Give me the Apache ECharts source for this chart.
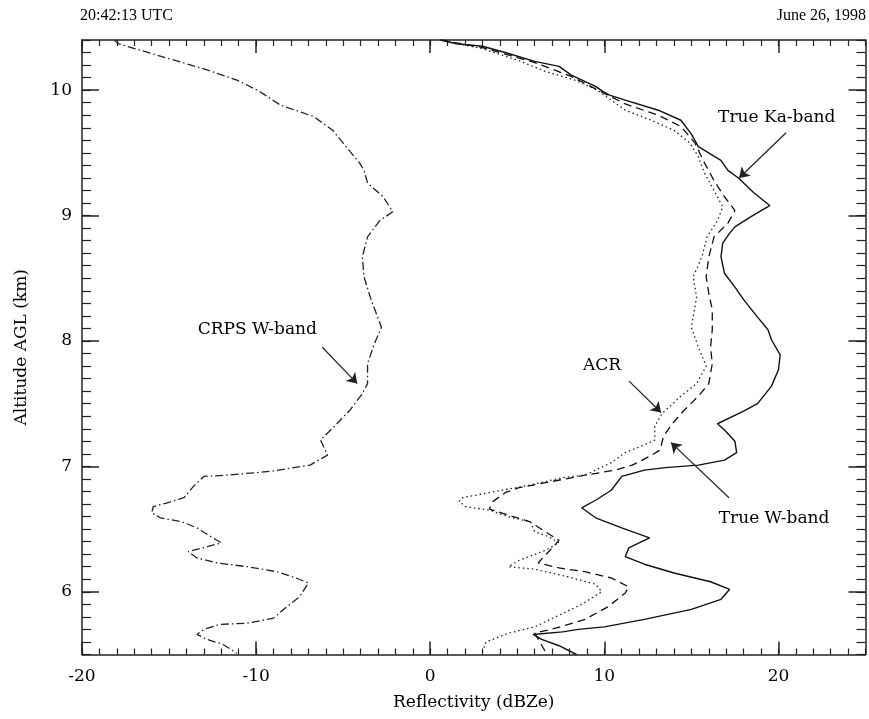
<!DOCTYPE html>
<html>
<head>
<meta charset="utf-8">
<script src="https://cdn.jsdelivr.net/npm/echarts@6/dist/echarts.min.js"></script>
<style>
html,body{margin:0;padding:0;background:#fff;}
#chart{width:869px;height:719px;}
</style>
</head>
<body>
<div id="chart"></div>
<script>
// ---- Data (x = reflectivity dBZe, y = altitude km AGL) ----
const xTickLabels = [-20, -10, 0, 10, 20];
const yTickLabels = [6, 7, 8, 9, 10];

const trueKa = [
  [0.6,10.40],[1.5,10.37],[3.0,10.35],[4.3,10.30],[6.0,10.23],[7.4,10.19],[8.1,10.12],[9.5,10.03],
  [9.9,9.99],[10.3,9.96],[11.2,9.92],[13.1,9.84],[14.4,9.76],[15.0,9.65],[15.4,9.55],[16.7,9.44],
  [17.1,9.36],[17.7,9.30],[18.6,9.18],[19.5,9.08],[18.4,8.99],[17.5,8.91],[17.2,8.86],[16.8,8.78],
  [16.7,8.67],[16.9,8.54],[17.5,8.43],[18.0,8.33],[18.8,8.19],[19.4,8.09],[19.6,8.01],[20.1,7.89],
  [20.0,7.77],[19.6,7.64],[18.8,7.50],[18.0,7.44],[16.5,7.34],[16.9,7.29],[17.5,7.20],[17.6,7.11],
  [16.9,7.05],[15.4,7.01],[13.5,6.99],[12.3,6.97],[11.0,6.92],[10.4,6.81],[9.5,6.73],[8.7,6.67],
  [9.5,6.59],[11.0,6.51],[12.6,6.43],[11.4,6.35],[11.2,6.28],[12.3,6.22],[14.0,6.15],[16.1,6.08],
  [17.2,6.02],[16.7,5.94],[15.0,5.86],[12.3,5.78],[10.0,5.72],[8.5,5.70],[7.6,5.68],[5.9,5.66],
  [6.4,5.62],[7.4,5.57],[8.4,5.50]
];

const trueW = [
  [0.6,10.40],[3.0,10.34],[6.0,10.22],[8.1,10.11],[9.5,10.01],[11.2,9.89],[13.1,9.80],[14.4,9.71],
  [15.2,9.58],[15.75,9.42],[16.3,9.28],[16.9,9.15],[17.5,9.04],[17.1,8.94],[16.3,8.83],[16.0,8.67],
  [15.85,8.51],[16.0,8.38],[16.2,8.25],[16.2,8.09],[16.1,7.95],[16.2,7.82],[16.0,7.66],[15.4,7.56],
  [14.6,7.45],[13.9,7.34],[13.4,7.24],[13.2,7.13],[12.6,7.08],[11.6,7.01],[10.6,6.97],[8.9,6.93],
  [7.0,6.88],[5.1,6.83],[4.3,6.79],[3.6,6.72],[3.4,6.66],[4.5,6.61],[5.7,6.56],[6.6,6.48],
  [7.4,6.41],[7.0,6.35],[6.2,6.23],[7.4,6.19],[8.9,6.16],[10.4,6.11],[11.4,6.04],[11.2,5.99],
  [10.2,5.88],[8.9,5.78],[7.2,5.71],[6.0,5.67],[6.3,5.60],[6.7,5.50]
];

const acr = [
  [0.6,10.40],[3.0,10.33],[5.0,10.24],[6.6,10.15],[8.3,10.08],[9.6,10.00],[11.2,9.84],[12.7,9.76],
  [14.0,9.68],[14.9,9.58],[15.4,9.47],[15.75,9.34],[16.3,9.20],[16.8,9.07],[16.5,8.96],[15.9,8.83],
  [15.6,8.67],[15.1,8.51],[15.3,8.35],[15.0,8.11],[15.4,7.95],[15.85,7.80],[15.3,7.66],[14.4,7.56],
  [13.3,7.42],[12.9,7.32],[12.9,7.21],[12.1,7.16],[11.2,7.11],[10.4,7.03],[8.9,6.93],[7.6,6.91],
  [5.7,6.85],[3.75,6.80],[1.85,6.75],[1.66,6.72],[2.04,6.68],[3.4,6.65],[4.7,6.59],[5.75,6.56],
  [6.0,6.48],[6.8,6.44],[7.4,6.39],[6.6,6.33],[5.1,6.25],[4.5,6.20],[6.0,6.18],[7.9,6.12],
  [9.5,6.06],[9.85,6.00],[8.7,5.90],[7.2,5.80],[6.0,5.72],[4.5,5.67],[3.2,5.60],[3.0,5.52]
];

const crps = [
  [-18.15,10.40],[-17.9,10.37],[-15.7,10.28],[-13.0,10.17],[-11.1,10.08],[-9.8,9.99],[-8.6,9.88],
  [-6.7,9.79],[-5.6,9.68],[-4.6,9.51],[-4.06,9.42],[-3.8,9.36],[-3.6,9.26],[-2.7,9.15],[-2.15,9.03],
  [-2.9,8.96],[-3.6,8.83],[-3.9,8.67],[-3.8,8.51],[-3.4,8.33],[-2.8,8.11],[-3.2,7.98],[-3.6,7.82],
  [-3.6,7.66],[-3.9,7.58],[-4.6,7.45],[-5.5,7.32],[-6.3,7.21],[-5.9,7.09],[-6.9,7.01],[-9.2,6.96],
  [-11.7,6.93],[-13.0,6.92],[-13.6,6.84],[-14.15,6.75],[-15.1,6.71],[-15.9,6.68],[-16.0,6.63],
  [-15.5,6.59],[-14.3,6.56],[-13.4,6.51],[-12.6,6.44],[-12.0,6.39],[-12.8,6.36],[-13.9,6.32],
  [-13.4,6.27],[-12.25,6.23],[-10.5,6.20],[-8.8,6.16],[-7.7,6.11],[-7.0,6.07],[-7.5,5.96],
  [-8.25,5.88],[-9.0,5.79],[-10.5,5.75],[-12.1,5.74],[-13.0,5.70],[-13.4,5.66],[-12.8,5.62],
  [-11.9,5.58],[-11.1,5.51]
];

// annotation labels (text anchor in data units) and arrows (from -> to in data units)
const annoNames = ['CRPS W-band', 'True Ka-band', 'ACR', 'True W-band'];
const annoText = [[-9.93, 8.09], [19.9, 9.78], [9.87, 7.80], [19.75, 6.58]];
const arrowFrom = [[-6.2, 7.95], [20.44, 9.66], [11.42, 7.68], [17.16, 6.75]];
const arrowTo = [[-4.19, 7.66], [17.74, 9.30], [13.26, 7.43], [13.83, 7.19]];

const headerLeft = '20:42:13 UTC';
const headerRight = 'June 26, 1998';
const xTitle = 'Reflectivity (dBZe)';
const yTitle = 'Altitude AGL (km)';

// ---- Chart ----
const SERIF = '"DejaVu Serif", "Liberation Serif", serif';
const AX = '#222';
const TXT = '#000';
const XMIN = -20, XMAX = 25, YMIN = 5.5, YMAX = 10.4;

const baseX = {type: 'value', min: XMIN, max: XMAX, splitLine: {show: false}};
const baseY = {type: 'value', min: YMIN, max: YMAX, splitLine: {show: false}};
const lineAx = {show: true, onZero: false, lineStyle: {color: AX, width: 1.5}};
const noLine = {show: false, onZero: false};

const chart = echarts.init(document.getElementById('chart'), null, {renderer: 'canvas'});

const option = {
  animation: false,
  backgroundColor: '#fff',
  title: [
    {text: headerLeft, left: 80, top: 8, padding: 0, textStyle: {fontFamily: '"Liberation Serif", serif', fontSize: 16, fontWeight: 'normal', color: TXT}},
    {text: headerRight, right: 3, top: 8, padding: 0, textStyle: {fontFamily: '"Liberation Serif", serif', fontSize: 16, fontWeight: 'normal', color: TXT}}
  ],
  grid: {left: 82, right: 3.5, top: 40, bottom: 64.5, containLabel: false},
  xAxis: [
    Object.assign({}, baseX, {position: 'bottom', interval: 1, axisLine: lineAx,
      axisTick: {show: true, inside: true, length: 6, lineStyle: {color: AX, width: 1.2}},
      axisLabel: {show: false},
      name: xTitle, nameLocation: 'middle', nameGap: 40,
      nameTextStyle: {fontFamily: SERIF, fontSize: 17, color: TXT}}),
    Object.assign({}, baseX, {position: 'bottom', axisLine: noLine,
      axisTick: {show: true, inside: true, length: 13, customValues: xTickLabels, lineStyle: {color: AX, width: 1.5}},
      axisLabel: {show: true, customValues: xTickLabels, margin: 14, fontFamily: SERIF, fontSize: 17, color: TXT}}),
    Object.assign({}, baseX, {position: 'top', interval: 1, axisLine: lineAx,
      axisTick: {show: true, inside: true, length: 6, lineStyle: {color: AX, width: 1.2}},
      axisLabel: {show: false}}),
    Object.assign({}, baseX, {position: 'top', axisLine: noLine,
      axisTick: {show: true, inside: true, length: 13, customValues: xTickLabels, lineStyle: {color: AX, width: 1.5}},
      axisLabel: {show: false}})
  ],
  yAxis: [
    Object.assign({}, baseY, {position: 'left', interval: 0.1, axisLine: lineAx,
      axisTick: {show: true, inside: true, length: 9, lineStyle: {color: AX, width: 1.2}},
      axisLabel: {show: false},
      name: yTitle, nameLocation: 'middle', nameGap: 52, nameRotate: 90,
      nameTextStyle: {fontFamily: SERIF, fontSize: 17, color: TXT}}),
    Object.assign({}, baseY, {position: 'left', axisLine: noLine,
      axisTick: {show: true, inside: true, length: 17, customValues: yTickLabels, lineStyle: {color: AX, width: 1.5}},
      axisLabel: {show: true, customValues: yTickLabels, margin: 10, fontFamily: SERIF, fontSize: 17, color: TXT}}),
    Object.assign({}, baseY, {position: 'right', interval: 0.1, axisLine: lineAx,
      axisTick: {show: true, inside: true, length: 9, lineStyle: {color: AX, width: 1.2}},
      axisLabel: {show: false}}),
    Object.assign({}, baseY, {position: 'right', axisLine: noLine,
      axisTick: {show: true, inside: true, length: 17, customValues: yTickLabels, lineStyle: {color: AX, width: 1.5}},
      axisLabel: {show: false}})
  ],
  series: [
    {name: 'True Ka-band', type: 'line', data: trueKa, symbol: 'none', smooth: false,
      lineStyle: {color: '#111', width: 1.4, type: 'solid'}},
    {name: 'True W-band', type: 'line', data: trueW, symbol: 'none', smooth: false,
      lineStyle: {color: '#111', width: 1.3, type: [8, 5]}},
    {name: 'ACR', type: 'line', data: acr, symbol: 'none', smooth: false,
      lineStyle: {color: '#222', width: 1.3, type: [1.5, 3]}},
    {name: 'CRPS W-band', type: 'line', data: crps, symbol: 'none', smooth: false,
      lineStyle: {color: '#222', width: 1.3, type: [8, 3, 1.5, 3]}},
    {name: 'annotations', type: 'scatter', symbolSize: 1, silent: true,
      itemStyle: {opacity: 1, color: 'rgba(0,0,0,0)'},
      data: annoNames.map((n, i) => ({name: n, value: annoText[i]})),
      label: {show: true, position: 'inside', formatter: p => p.name, opacity: 1,
        fontFamily: SERIF, fontSize: 17, color: TXT, textBorderWidth: 0}},
    {name: 'arrows', type: 'line', data: [], silent: true,
      markLine: {silent: true, animation: false, symbol: ['none', 'arrow'], symbolSize: 10,
        label: {show: false}, itemStyle: {color: '#222'},
        lineStyle: {color: '#222', type: 'solid', width: 1.2},
        emphasis: {disabled: true},
        data: arrowFrom.map((f, i) => [
          {coord: f, symbol: 'none'},
          {coord: arrowTo[i], symbol: 'arrow', symbolSize: 10}
        ])}}
  ]
};
chart.setOption(option);
</script>
</body>
</html>
